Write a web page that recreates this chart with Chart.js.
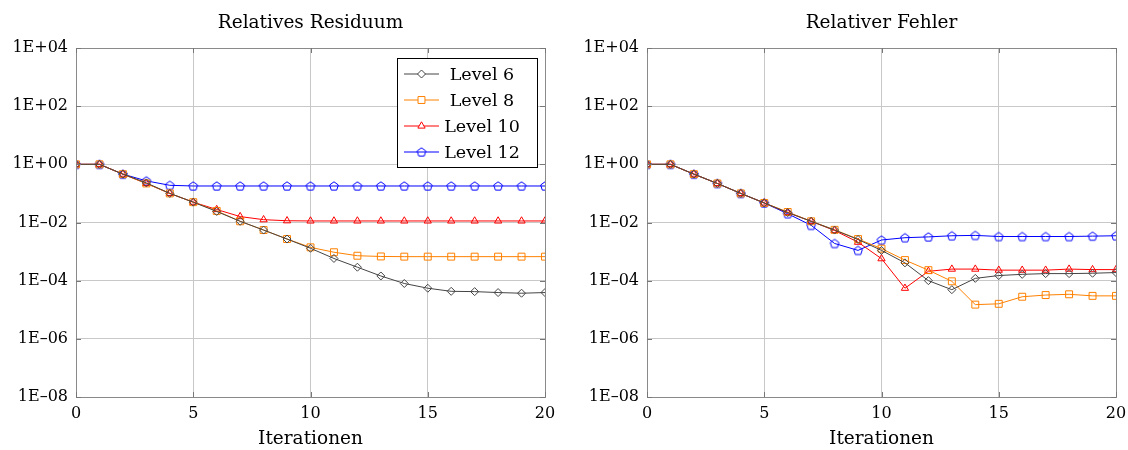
<!DOCTYPE html>
<html>
<head>
<meta charset="utf-8">
<script src="https://cdn.jsdelivr.net/npm/chart.js@4"></script>
<style>
  html, body { margin: 0; padding: 0; background: #fff; }
  #wrap { position: relative; width: 1128px; height: 450px; }
  .box { position: absolute; top: 0; height: 450px; }
  #left { left: 0; width: 564px; }
  #right { left: 571px; width: 557px; }
</style>
</head>
<body>
<div id="wrap">
  <div class="box" id="left"><canvas id="residuumChart"></canvas></div>
  <div class="box" id="right"><canvas id="fehlerChart"></canvas></div>
</div>
<script>
// Iteration numbers (x axis)
const iterations = [0, 1, 2, 3, 4, 5, 6, 7, 8, 9, 10, 11, 12, 13, 14, 15, 16, 17, 18, 19, 20];
const seriesNames = ["Level 6", "Level 8", "Level 10", "Level 12"];
const yTickValues = [1e-8, 1e-6, 1e-4, 1e-2, 1, 1e2, 1e4];
const xTickValues = [0, 5, 10, 15, 20];

// Relatives Residuum
const residuumLevel6 = [1, 1, 0.46, 0.23, 0.10, 0.05, 0.024, 0.011, 0.0055, 0.0027, 0.0013, 5.8e-4, 2.9e-4, 1.45e-4, 8e-5, 5.5e-5, 4.3e-5, 4.2e-5, 3.9e-5, 3.7e-5, 3.9e-5];
const residuumLevel8 = [1, 1, 0.46, 0.22, 0.10, 0.05, 0.025, 0.011, 0.0055, 0.0027, 0.0014, 9.5e-4, 7.2e-4, 6.8e-4, 6.7e-4, 6.7e-4, 6.7e-4, 6.7e-4, 6.7e-4, 6.7e-4, 6.7e-4];
const residuumLevel10 = [1, 1, 0.46, 0.22, 0.10, 0.05, 0.028, 0.016, 0.0125, 0.0115, 0.0113, 0.0113, 0.0113, 0.0113, 0.0113, 0.0113, 0.0113, 0.0113, 0.0113, 0.0113, 0.0113];
const residuumLevel12 = [1, 1, 0.46, 0.27, 0.19, 0.18, 0.18, 0.18, 0.18, 0.18, 0.18, 0.18, 0.18, 0.18, 0.18, 0.18, 0.18, 0.18, 0.18, 0.18, 0.18];

// Relativer Fehler
const fehlerLevel6 = [1, 1, 0.46, 0.22, 0.10, 0.047, 0.022, 0.011, 0.0055, 0.0026, 0.0011, 4.1e-4, 1.0e-4, 4.9e-5, 1.2e-4, 1.5e-4, 1.65e-4, 1.75e-4, 1.75e-4, 1.8e-4, 1.9e-4];
const fehlerLevel8 = [1, 1, 0.46, 0.22, 0.10, 0.047, 0.023, 0.011, 0.0056, 0.0027, 0.00126, 5.1e-4, 2.3e-4, 9.5e-5, 1.5e-5, 1.6e-5, 2.8e-5, 3.2e-5, 3.4e-5, 3.0e-5, 3.0e-5];
const fehlerLevel10 = [1, 1, 0.46, 0.22, 0.10, 0.047, 0.022, 0.011, 0.0053, 0.0021, 5.7e-4, 5.5e-5, 2.1e-4, 2.5e-4, 2.5e-4, 2.3e-4, 2.3e-4, 2.3e-4, 2.5e-4, 2.4e-4, 2.4e-4];
const fehlerLevel12 = [1, 1, 0.46, 0.22, 0.10, 0.047, 0.020, 0.008, 0.0019, 0.0011, 0.0025, 0.0030, 0.0032, 0.0035, 0.0036, 0.0033, 0.0033, 0.0033, 0.0033, 0.0034, 0.0035];

const FONT = "'DejaVu Serif', serif";
const colors = ["#444444", "#ff8000", "#ff0000", "#0000ff"];

// Chart.js has no pentagon marker, so draw one on a small canvas
function pentagonMarker(color) {
    const c = document.createElement("canvas");
    c.width = 12; c.height = 12;
    const g = c.getContext("2d");
    g.strokeStyle = color;
    g.lineWidth = 1;
    g.beginPath();
    for (let i = 0; i < 5; i++) {
        const a = -Math.PI / 2 + i * 2 * Math.PI / 5;
        const px = 6 + 4.6 * Math.cos(a), py = 6.4 + 4.6 * Math.sin(a);
        if (i === 0) g.moveTo(px, py); else g.lineTo(px, py);
    }
    g.closePath();
    g.stroke();
    return c;
}

const markers = [
    { style: "rectRot", radius: 4 },
    { style: "rect", radius: 4.9 },
    { style: "triangle", radius: 4.2 },
    { style: pentagonMarker("#0000ff"), radius: 5 }
];

function makeDatasets(valueLists) {
    return valueLists.map((vals, i) => ({
        label: seriesNames[i],
        data: iterations.map((x, k) => ({ x: x, y: vals[k] })),
        borderColor: colors[i],
        backgroundColor: colors[i],
        borderWidth: 1,
        pointStyle: markers[i].style,
        pointRadius: markers[i].radius,
        pointBorderWidth: 1,
        pointBorderColor: colors[i],
        pointBackgroundColor: "rgba(0,0,0,0)",
        tension: 0
    }));
}

function expLabel(v) {
    const e = Math.round(Math.log10(v));
    const sign = e < 0 ? "\u2013" : "+";
    return "1E" + sign + String(Math.abs(e)).padStart(2, "0");
}

// frame around the plot plus small inward tick marks, title over the plot
const framePlugin = {
    id: "frame",
    afterDatasetsDraw(chart, args, opts) {
        const { ctx, chartArea: a, scales } = chart;
        ctx.save();
        ctx.strokeStyle = "#8a8a8a";
        ctx.lineWidth = 1;
        ctx.strokeRect(Math.round(a.left) + 0.5, Math.round(a.top) + 0.5,
            Math.round(a.right - a.left), Math.round(a.bottom - a.top));
        ctx.beginPath();
        yTickValues.forEach(v => {
            const y = Math.round(scales.y.getPixelForValue(v)) + 0.5;
            ctx.moveTo(a.left, y); ctx.lineTo(a.left + 5, y);
            ctx.moveTo(a.right, y); ctx.lineTo(a.right - 5, y);
        });
        xTickValues.forEach(v => {
            const x = Math.round(scales.x.getPixelForValue(v)) + 0.5;
            ctx.moveTo(x, a.bottom); ctx.lineTo(x, a.bottom - 5);
            ctx.moveTo(x, a.top); ctx.lineTo(x, a.top + 5);
        });
        ctx.strokeStyle = "#777777";
        ctx.stroke();

        ctx.fillStyle = "#000";
        ctx.font = "18.5px " + FONT;
        ctx.textAlign = "center";
        ctx.textBaseline = "alphabetic";
        ctx.fillText(opts.title, (a.left + a.right) / 2, 28);
        ctx.restore();
    }
};

// boxed legend in the upper right corner of the plot
const boxLegendPlugin = {
    id: "boxLegend",
    afterDraw(chart, args, opts) {
        if (!opts.show) return;
        const { ctx, chartArea: a } = chart;
        const w = 140, rowH = 26, h = 4 * rowH + 5;
        const x0 = a.right - 8 - w, y0 = a.top + 10;
        ctx.save();
        ctx.fillStyle = "#fff";
        ctx.fillRect(x0, y0, w, h);
        ctx.strokeStyle = "#000";
        ctx.lineWidth = 1;
        ctx.strokeRect(Math.round(x0) + 0.5, Math.round(y0) + 0.5, w, h);
        chart.data.datasets.forEach((ds, i) => {
            const cy = y0 + 16 + i * rowH;
            ctx.strokeStyle = ds.borderColor;
            ctx.lineWidth = 1;
            ctx.beginPath();
            ctx.moveTo(x0 + 7, cy); ctx.lineTo(x0 + 42, cy);
            ctx.stroke();
            ctx.fillStyle = "#fff";
            Chart.helpers.drawPoint(ctx, {
                pointStyle: ds.pointStyle,
                radius: ds.pointRadius,
                rotation: 0,
                borderWidth: 1
            }, x0 + 24.5, cy);
            ctx.fillStyle = "#000";
            ctx.font = "17.5px " + FONT;
            ctx.textAlign = "center";
            ctx.textBaseline = "middle";
            ctx.fillText(ds.label, x0 + 85, cy + 1);
        });
        ctx.restore();
    }
};

function makeChart(canvasId, title, valueLists, withLegend, rightPad) {
    const ctx = document.getElementById(canvasId).getContext("2d");
    return new Chart(ctx, {
        type: "line",
        data: { datasets: makeDatasets(valueLists) },
        plugins: [framePlugin, boxLegendPlugin],
        options: {
            responsive: true,
            maintainAspectRatio: false,
            animation: false,
            layout: { padding: { left: 0, right: rightPad, top: 48, bottom: 0 } },
            plugins: {
                legend: { display: false },
                tooltip: { enabled: false },
                title: { display: false },
                frame: { title: title },
                boxLegend: { show: withLegend }
            },
            scales: {
                x: {
                    type: "linear",
                    min: 0,
                    max: 20,
                    afterBuildTicks: s => { s.ticks = xTickValues.map(v => ({ value: v })); },
                    afterFit: s => { s.height = 53; s.paddingRight = 0; s.paddingLeft = 0; },
                    grid: { color: "#c8c8c8", drawTicks: false },
                    border: { display: false },
                    ticks: {
                        color: "#000",
                        padding: 7,
                        maxRotation: 0,
                        font: { family: FONT, size: 16 }
                    },
                    title: {
                        display: true,
                        text: "Iterationen",
                        color: "#000",
                        padding: { top: 5, bottom: 0 },
                        font: { family: FONT, size: 18.5 }
                    }
                },
                y: {
                    type: "logarithmic",
                    min: 1e-8,
                    max: 1e4,
                    afterBuildTicks: s => { s.ticks = yTickValues.map(v => ({ value: v })); },
                    afterFit: s => { s.width = 76; s.paddingTop = 0; s.paddingBottom = 0; },
                    grid: { color: "#c8c8c8", drawTicks: false },
                    border: { display: false },
                    ticks: {
                        color: "#000",
                        padding: 8,
                        font: { family: FONT, size: 16 },
                        callback: v => expLabel(v)
                    }
                }
            }
        }
    });
}

makeChart("residuumChart", "Relatives Residuum",
    [residuumLevel6, residuumLevel8, residuumLevel10, residuumLevel12], true, 19);
makeChart("fehlerChart", "Relativer Fehler",
    [fehlerLevel6, fehlerLevel8, fehlerLevel10, fehlerLevel12], false, 12);
</script>
</body>
</html>
